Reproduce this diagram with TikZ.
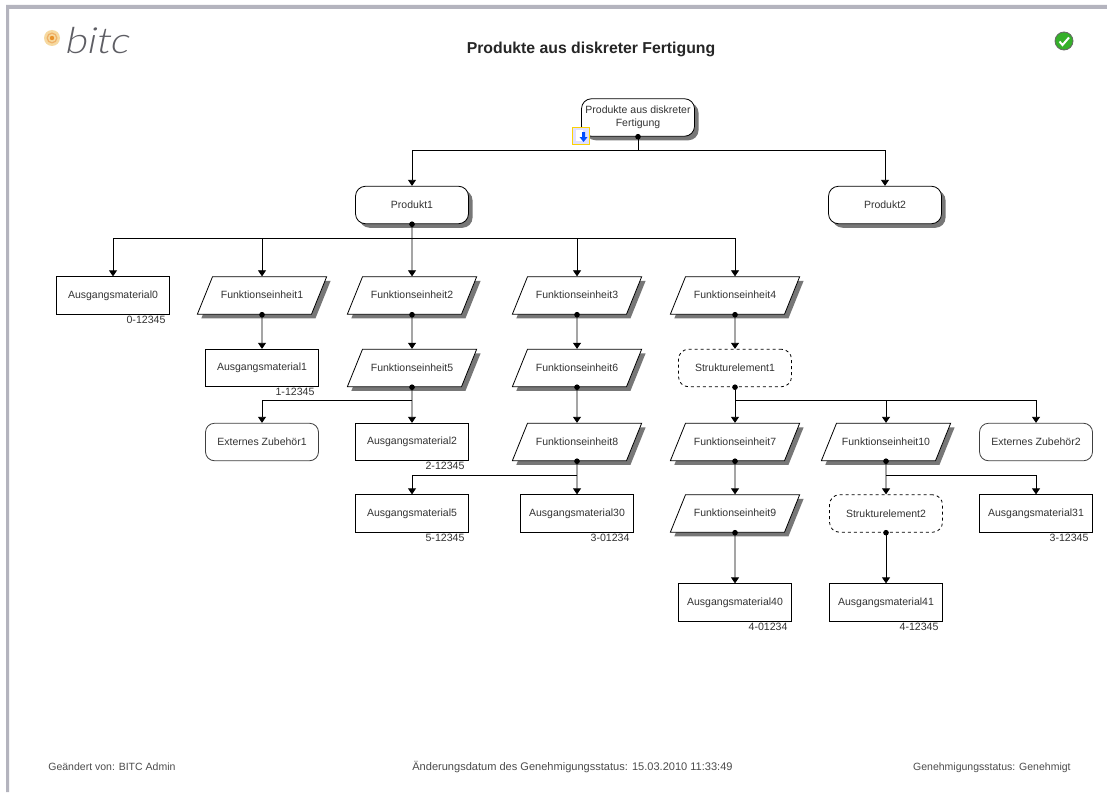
\documentclass[tikz,border=0pt]{standalone}
\usepackage{fontspec}
\setmainfont{Liberation Sans}
\newfontfamily\logofont[FakeSlant=0.2,FakeStretch=1.12]{Lato Light}
\usepackage{tikz}
\usetikzlibrary{shapes.geometric}
\usetikzlibrary{shadows}
\usetikzlibrary{positioning}
\usetikzlibrary{arrows.meta}
\definecolor{textgrau}{HTML}{333333}
\definecolor{schatten}{HTML}{777777}
\definecolor{rahmen}{HTML}{B4B4BE}
\definecolor{logograu}{HTML}{5E5E64}
\definecolor{logoorange}{HTML}{E8912A}
\definecolor{logohell}{HTML}{F6D9A0}
\definecolor{okgruen}{HTML}{35B02A}

\begin{document}
\begin{tikzpicture}[x=1pt,y=-1pt,>={Triangle[length=6pt,width=8pt]},line width=0.8pt,
	every node/.style={font=\fontsize{10.5}{12.8}\selectfont,text=textgrau},
	box node/.style={draw,fill=white,minimum width=113pt,minimum height=37.5pt,inner sep=0pt},
	schatten node/.style={drop shadow={shadow xshift=4pt,shadow yshift=-4pt,fill=schatten,opacity=1}},
	produkt node/.style={box node,schatten node,rounded corners=10pt},
	material node/.style={box node},
	zubehoer node/.style={box node,rounded corners=9pt,draw=black!75},
	struktur node/.style={box node,rounded corners=10pt,dashed},
	funktion node/.style={draw,fill=white,schatten node,trapezium,trapezium left angle=68,trapezium right angle=112,
		text width=99pt,align=center,text height=8pt,text depth=1.5pt,inner xsep=0pt,inner ysep=14pt},
	nummer node/.style={inner sep=0pt,anchor=north east,font=\fontsize{10.6}{11}\selectfont},
	footer node/.style={inner sep=0pt,font=\fontsize{10.5}{12}\selectfont,text=black!70},
	punkt/.style={{Circle[length=5.5pt]}->,shorten <=-2.7pt},
	stamm/.style={{Circle[length=5.5pt]}-,shorten <=-2.7pt}]
	
	\useasboundingbox (0,0) rectangle (1107,792);
	\fill[white] (0,0) rectangle (1107,792);
	\fill[rahmen] (6,792) -- (6,5) -- (1107,5) -- (1107,9) -- (9,9) -- (9,792) -- cycle;
	
	\fill[logohell] (52,38) circle (8);
	\fill[logoorange!70] (52,38) circle (5.5);
	\fill[logohell] (52,38) circle (4);
	\fill[logoorange] (52,38) circle (2.2);
	\node[inner sep=0pt,text=logograu,font=\fontsize{36}{36}\selectfont\logofont] (logo) at (96,41) {bitc};
	\node[inner sep=0pt,font=\fontsize{15.8}{18}\selectfont\bfseries,text=black!85] (titel) at (591,49) {Produkte aus diskreter Fertigung};
	
	\node[circle,inner sep=0pt,minimum size=18pt,draw=black!60,fill=okgruen] (ok) at (1064,41) {};
	\draw[white,line width=2pt] (1059.5,41.5) -- (1062.5,45) -- (1069,37.5);
	
	\node[produkt node,align=center] (root) at (638,117.5) {Produkte aus diskreter\\Fertigung};
	\node[produkt node] (prod1) at (412,205) {Produkt1};
	\node[produkt node] (prod2) [right of=prod1,node distance=473pt] {Produkt2};
	
	\node[funktion node] (fe2) at (412,295.5) {Funktionseinheit2};
	\node[funktion node] (fe1) [left of=fe2,node distance=150pt] {Funktionseinheit1};
	\node[material node] (am0) [left of=fe1,node distance=149pt] {Ausgangsmaterial0};
	\node[funktion node] (fe3) [right of=fe2,node distance=165pt] {Funktionseinheit3};
	\node[funktion node] (fe4) [right of=fe3,node distance=158pt] {Funktionseinheit4};
	
	\node[material node] (am1) [below of=fe1,node distance=72.5pt] {Ausgangsmaterial1};
	\node[funktion node] (fe5) [below of=fe2,node distance=72.5pt] {Funktionseinheit5};
	\node[funktion node] (fe6) [below of=fe3,node distance=72.5pt] {Funktionseinheit6};
	\node[struktur node] (se1) [below of=fe4,node distance=72.5pt] {Strukturelement1};
	
	\node[zubehoer node] (ez1) [below of=am1,node distance=74pt] {Externes Zubehör1};
	\node[material node] (am2) [below of=fe5,node distance=74pt] {Ausgangsmaterial2};
	\node[funktion node] (fe8) [below of=fe6,node distance=74pt] {Funktionseinheit8};
	\node[funktion node] (fe7) [below of=se1,node distance=74pt] {Funktionseinheit7};
	\node[funktion node] (fe10) [right of=fe7,node distance=151pt] {Funktionseinheit10};
	\node[zubehoer node] (ez2) [right of=fe10,node distance=150pt] {Externes Zubehör2};
	
	\node[material node] (am5) [below of=am2,node distance=71.5pt] {Ausgangsmaterial5};
	\node[material node] (am30) [below of=fe8,node distance=71.5pt] {Ausgangsmaterial30};
	\node[funktion node] (fe9) [below of=fe7,node distance=71.5pt] {Funktionseinheit9};
	\node[struktur node] (se2) [below of=fe10,node distance=71.5pt] {Strukturelement2};
	\node[material node] (am31) [below of=ez2,node distance=71.5pt] {Ausgangsmaterial31};
	
	\node[material node] (am40) [below of=fe9,node distance=89pt] {Ausgangsmaterial40};
	\node[material node] (am41) [below of=se2,node distance=89pt] {Ausgangsmaterial41};
	
	\node[nummer node] (n0) at ([xshift=-4pt,yshift=-1pt]am0.south east) {0-12345};
	\node[nummer node] (n1) at ([xshift=-4pt,yshift=-1pt]am1.south east) {1-12345};
	\node[nummer node] (n2) at ([xshift=-4pt,yshift=-1pt]am2.south east) {2-12345};
	\node[nummer node] (n5) at ([xshift=-4pt,yshift=-1pt]am5.south east) {5-12345};
	\node[nummer node] (n30) at ([xshift=-4pt,yshift=-1pt]am30.south east) {3-01234};
	\node[nummer node] (n31) at ([xshift=-4pt,yshift=-1pt]am31.south east) {3-12345};
	\node[nummer node] (n40) at ([xshift=-4pt,yshift=-1pt]am40.south east) {4-01234};
	\node[nummer node] (n41) at ([xshift=-4pt,yshift=-1pt]am41.south east) {4-12345};
	
	\coordinate (bus0) at (root |- 0,150.5);
	\coordinate (bus1) at (prod1 |- 0,238);
	\coordinate (bus5) at (fe5 |- 0,400.5);
	\coordinate (bus8) at (fe8 |- 0,475);
	\coordinate (busse1) at (se1 |- 0,400.5);
	\coordinate (bus10) at (fe10 |- 0,475);
	
	\draw[stamm] (root) -- (bus0);
	\draw[->] (bus0) -| (prod1);
	\draw[->] (bus0) -| (prod2);
	
	\draw[punkt] (prod1) -- (fe2);
	\draw[->] (bus1) -| (am0);
	\draw[->] (bus1) -| (fe1);
	\draw[->] (bus1) -| (fe3);
	\draw[->] (bus1) -| (fe4);
	
	\draw[punkt] (fe1) -- (am1);
	\draw[punkt] (fe2) -- (fe5);
	\draw[punkt] (fe3) -- (fe6);
	\draw[punkt] (fe4) -- (se1);
	\draw[punkt] (fe5) -- (am2);
	\draw[->] (bus5) -| (ez1);
	\draw[punkt] (fe6) -- (fe8);
	\draw[punkt] (fe8) -- (am30);
	\draw[->] (bus8) -| (am5);
	\draw[punkt] (se1) -- (fe7);
	\draw[->] (busse1) -| (fe10);
	\draw[->] (busse1) -| (ez2);
	\draw[punkt] (fe7) -- (fe9);
	\draw[punkt] (fe10) -- (se2);
	\draw[->] (bus10) -| (am31);
	\draw[punkt] (fe9) -- (am40);
	\draw[punkt] (se2) -- (am41);
	
	\node[draw=yellow!70!orange,fill=blue!12,line width=1pt,minimum size=17pt,inner sep=0pt] (icon) at (581,135.5) {};
	\fill[white] (575.5,129.5) rectangle (583,141);
	\fill[blue!70!cyan] (582,132) rectangle (585,137) (579.5,137) -- (587.5,137) -- (583.5,142) -- cycle;
	
	\node[footer node,anchor=base west] (geaendert) at (48,770) {Geändert von: BITC Admin};
	\node[footer node,anchor=base,font=\fontsize{11.05}{12}\selectfont] (datum) at (572.5,770) {Änderungsdatum des Genehmigungsstatus: 15.03.2010 11:33:49};
	\node[footer node,anchor=base east] (status) at (1071,770) {Genehmigungsstatus: Genehmigt};
\end{tikzpicture}
\end{document}
